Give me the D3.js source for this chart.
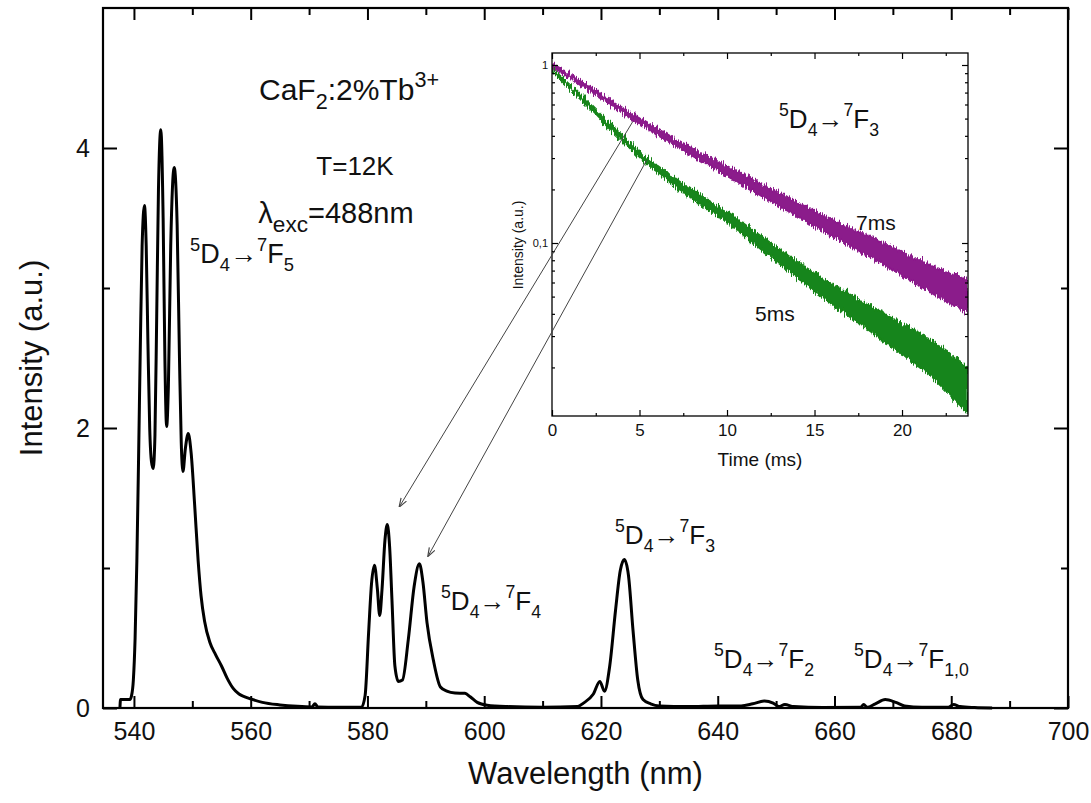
<!DOCTYPE html>
<html><head><meta charset="utf-8">
<script src="https://cdn.jsdelivr.net/npm/d3@7"></script>
<style>
html,body{margin:0;padding:0;background:#fff;}
svg{display:block;font-family:"Liberation Sans",Arial,Helvetica,sans-serif;}
</style></head>
<body><svg id="chart" width="1091" height="803"></svg>
<script>
// ---------- main spectrum data ----------
const wavelength = [537.6,537.7,539.3,539.6,539.9,540.2,540.5,540.8,541.1,541.4,541.8,542.1,542.4,542.7,543.0,543.3,543.6,543.9,544.2,544.6,545.0,545.3,545.6,545.9,546.3,546.9,547.4,547.8,548.1,548.4,548.8,549.3,549.8,550.4,551.0,551.5,552.1,553.0,554.0,555.0,556.0,557.0,558.0,559.0,560.0,562.0,565.0,568.0,570.5,571.0,571.5,575.0,579.0,579.6,580.2,580.7,581.2,581.7,582.1,582.5,583.0,583.4,583.8,584.2,584.7,585.3,586.0,587.0,588.0,588.9,589.5,590.2,591.3,592.5,593.6,595.0,596.7,597.6,598.8,600.5,604,610,616,617,618.7,619.8,620.6,621.5,622.5,623.3,624.0,624.7,625.5,626.3,627.2,628.5,630,635,640,644,646,648,649.5,650.5,651.5,653,658,664.5,665,665.6,667,668.7,670.5,672,675,679.5,680.4,681.5,684,687];
const intensity = [0,0.06,0.06,0.09,0.2,0.5,1.05,1.8,2.6,3.3,3.59,3.3,2.6,2.0,1.76,1.71,1.95,2.8,3.7,4.13,3.5,2.5,2.01,2.3,3.3,3.86,3.45,2.5,1.9,1.69,1.85,1.96,1.82,1.45,1.05,0.8,0.62,0.47,0.38,0.3,0.21,0.14,0.1,0.08,0.065,0.04,0.022,0.012,0.008,0.03,0.008,0.005,0.006,0.09,0.54,0.89,1.02,0.85,0.66,0.85,1.2,1.31,1.15,0.77,0.3,0.19,0.2,0.49,0.87,1.03,0.9,0.61,0.34,0.15,0.12,0.107,0.105,0.08,0.04,0.02,0.01,0.005,0.01,0.035,0.1,0.19,0.12,0.3,0.7,0.98,1.06,0.95,0.55,0.2,0.06,0.03,0.015,0.01,0.015,0.015,0.03,0.05,0.035,0.01,0.025,0.01,0.003,0.005,0.025,0.005,0.03,0.06,0.04,0.015,0.005,0.005,0.025,0.01,0.003,0];
const xTicks = [540,560,580,600,620,640,660,680,700];
const xMinorTicks = [550,570,590,610,630,650,670,690];
const yTicks = [0,2,4];
const yMinorTicks = [1,3];

// ---------- inset decay data (bands read as upper/lower envelopes) ----------
const slowTime  = [0,2,4.6,7.5,11.3,15.1,18.9,21.8,23.77];
const slowUpper = [1.026,0.777,0.532,0.365,0.233,0.150,0.101,0.0740,0.0620];
const slowLower = [0.975,0.728,0.492,0.330,0.200,0.122,0.076,0.0515,0.0400];
const fastTime  = [0,1.8,3.7,5.6,7.9,10,12.1,15.1,18.9,21.8,23.77];
const fastUpper = [0.961,0.657,0.432,0.294,0.202,0.150,0.107,0.0668,0.0405,0.0280,0.0200];
const fastLower = [0.913,0.616,0.399,0.269,0.180,0.130,0.0895,0.0525,0.0283,0.0172,0.0110];
const insetXTicks = [0,5,10,15,20];
const insetXMinor = [2.5,7.5,12.5,17.5,22.5];
const insetYTicks = [1,0.1];
const insetYTickLabels = ["1","0,1"];
const insetYMinor = [0.02,0.03,0.04,0.05,0.06,0.07,0.08,0.09,0.2,0.3,0.4,0.5,0.6,0.7,0.8,0.9];

// arrows: from inset (time, intensity) to main (wavelength, intensity)
const arrowFromTime = [4.61,5.41];
const arrowFromInt  = [0.48,0.292];
const arrowToWl     = [585.5,590.4];
const arrowToInt    = [1.44,1.086];

// ---------- drawing ----------
const svg = d3.select('#chart');
const FRAME = {l:103, t:8, r:1068, b:708};
const x = d3.scaleLinear().domain([534.7,700]).range([FRAME.l, FRAME.r]);
const y = d3.scaleLinear().domain([0,5]).range([FRAME.b, FRAME.t]);

function tickAxis(axisFn, scale, ticks, size, labels){
  return axisFn(scale).tickValues(ticks).tickSizeInner(size).tickSizeOuter(0)
    .tickFormat(labels ? (d=>d) : () => '');
}
function styleAxis(g, fontSize){
  g.select('.domain').remove();
  g.selectAll('.tick line').attr('stroke','#000').attr('stroke-width',2);
  g.selectAll('.tick text').attr('font-size',fontSize).attr('fill','#111')
    .attr('font-family','"Liberation Sans",Arial,sans-serif');
}
// bottom
let g = svg.append('g').attr('transform',`translate(0,${FRAME.b})`)
  .call(tickAxis(d3.axisBottom, x, xTicks, -12, true).tickPadding(14));
styleAxis(g, 25);
g = svg.append('g').attr('transform',`translate(0,${FRAME.b})`)
  .call(tickAxis(d3.axisBottom, x, xMinorTicks, -7, false)); styleAxis(g);
// top
g = svg.append('g').attr('transform',`translate(0,${FRAME.t})`)
  .call(tickAxis(d3.axisTop, x, xTicks, -12, false)); styleAxis(g);
g = svg.append('g').attr('transform',`translate(0,${FRAME.t})`)
  .call(tickAxis(d3.axisTop, x, xMinorTicks, -7, false)); styleAxis(g);
// left
g = svg.append('g').attr('transform',`translate(${FRAME.l},0)`)
  .call(tickAxis(d3.axisLeft, y, yTicks, -14, true).tickPadding(13));
styleAxis(g, 25);
g = svg.append('g').attr('transform',`translate(${FRAME.l},0)`)
  .call(tickAxis(d3.axisLeft, y, yMinorTicks, -7, false)); styleAxis(g);
// right
g = svg.append('g').attr('transform',`translate(${FRAME.r},0)`)
  .call(tickAxis(d3.axisRight, y, yTicks, -14, false)); styleAxis(g);
g = svg.append('g').attr('transform',`translate(${FRAME.r},0)`)
  .call(tickAxis(d3.axisRight, y, yMinorTicks, -7, false)); styleAxis(g);

// frame
svg.append('rect').attr('x',FRAME.l).attr('y',FRAME.t).attr('width',FRAME.r-FRAME.l).attr('height',FRAME.b-FRAME.t)
  .attr('fill','none').attr('stroke','#000').attr('stroke-width',2.2);

// axis titles
svg.append('text').attr('x',(FRAME.l+FRAME.r)/2).attr('y',784).attr('text-anchor','middle')
  .attr('font-size',31).attr('fill','#111').text('Wavelength (nm)');
svg.append('text').attr('transform',`translate(42,${(FRAME.t+FRAME.b)/2}) rotate(-90)`).attr('text-anchor','middle')
  .attr('font-size',31).attr('fill','#111').text('Intensity (a.u.)');

// spectrum line
const specData = wavelength.map((w,i)=>[w,intensity[i]]);
svg.append('path').datum(specData)
  .attr('d', d3.line().x(d=>x(d[0])).y(d=>y(d[1])).curve(d3.curveMonotoneX))
  .attr('fill','none').attr('stroke','#000').attr('stroke-width',3).attr('stroke-linejoin','round');

// rich text helper
function rich(parent, px, py, parts, size, anchor, scriptScale){
  const sc = scriptScale || 0.68;
  const t = parent.append('text').attr('x',px).attr('y',py).attr('font-size',size)
    .attr('fill','#111').attr('text-anchor',anchor||'start');
  let cur = 0;
  parts.forEach(([s,kind])=>{
    const target = kind==='sup' ? -0.45*size : kind==='sub' ? 0.3*size : 0;
    t.append('tspan').attr('dy', target-cur).attr('font-size', kind ? size*sc : size).text(s);
    cur = target;
  });
  return t;
}
function transition(parent, px, py, lower, size){
  return rich(parent, px, py, [['5','sup'],['D'],['4','sub'],['\u2192'],['7','sup'],['F'],[lower,'sub']], size);
}

// annotations main
rich(svg, 349, 100, [['CaF'],['2','sub'],[':2%Tb'],['3+','sup']], 30, 'middle', 0.72);
rich(svg, 355, 175, [['T=12K']], 26, 'middle');
rich(svg, 336, 223, [['\u03bb'],['exc','sub'],['=488nm']], 29, 'middle', 0.78);
transition(svg, 190, 263, '5', 27);
transition(svg, 441, 610, '4', 26);
transition(svg, 615, 544, '3', 26);
transition(svg, 714, 668, '2', 26);
transition(svg, 854, 668, '1,0', 26);

// ---------- inset ----------
const IN = {l:552, t:53, r:968, b:416};
const xi = d3.scaleLinear().domain([0,23.77]).range([IN.l, IN.r]);
const yi = d3.scaleLog().domain([0.01067,1.168]).range([IN.b, IN.t]);

const defs = svg.append('defs');
defs.append('clipPath').attr('id','insetClip').append('rect')
  .attr('x',IN.l).attr('y',IN.t).attr('width',IN.r-IN.l).attr('height',IN.b-IN.t);
const f = defs.append('filter').attr('id','noisy').attr('filterUnits','userSpaceOnUse')
  .attr('x',IN.l-20).attr('y',IN.t-20).attr('width',IN.r-IN.l+40).attr('height',IN.b-IN.t+40);
f.append('feTurbulence').attr('type','fractalNoise').attr('baseFrequency','0.9 0.06').attr('numOctaves',2).attr('seed',4).attr('result','n');
f.append('feDisplacementMap').attr('in','SourceGraphic').attr('in2','n').attr('scale',9)
  .attr('xChannelSelector','R').attr('yChannelSelector','G');
const ah = defs.append('marker').attr('id','arrowHead').attr('viewBox','0 0 10 10').attr('refX',9).attr('refY',5)
  .attr('markerWidth',9).attr('markerHeight',9).attr('markerUnits','userSpaceOnUse').attr('orient','auto');
ah.append('path').attr('d','M0,1.5 L10,5 L0,8.5').attr('fill','none').attr('stroke','#444').attr('stroke-width',1.3);

const ig = svg.append('g');
const bands = ig.append('g').attr('clip-path','url(#insetClip)');
const area = d3.area().x(d=>xi(d[0])).y0(d=>yi(d[2])).y1(d=>yi(d[1])).curve(d3.curveMonotoneX);
bands.append('path').datum(fastTime.map((t,i)=>[t,fastUpper[i],fastLower[i]]))
  .attr('d',area).attr('fill','#16851a').attr('stroke','#16851a').attr('stroke-width',1.5).attr('filter','url(#noisy)');
bands.append('path').datum(slowTime.map((t,i)=>[t,slowUpper[i],slowLower[i]]))
  .attr('d',area).attr('fill','#8b1a8b').attr('stroke','#8b1a8b').attr('stroke-width',1.5).attr('filter','url(#noisy)');

// inset axes
function styleInset(g, fs){
  g.select('.domain').remove();
  g.selectAll('.tick line').attr('stroke','#000').attr('stroke-width',1.2);
  g.selectAll('.tick text').attr('font-size',fs).attr('fill','#111');
}
g = ig.append('g').attr('transform',`translate(0,${IN.b})`)
  .call(d3.axisBottom(xi).tickValues(insetXTicks).tickSizeInner(-6).tickSizeOuter(0).tickPadding(8)); styleInset(g,17);
g = ig.append('g').attr('transform',`translate(0,${IN.b})`)
  .call(d3.axisBottom(xi).tickValues(insetXMinor.filter(v=>v<23.7)).tickSizeInner(-3).tickSizeOuter(0).tickFormat(()=>'')); styleInset(g);
g = ig.append('g').attr('transform',`translate(0,${IN.t})`)
  .call(d3.axisTop(xi).tickValues(insetXTicks).tickSizeInner(-6).tickSizeOuter(0).tickFormat(()=>'')); styleInset(g);
g = ig.append('g').attr('transform',`translate(0,${IN.t})`)
  .call(d3.axisTop(xi).tickValues(insetXMinor.filter(v=>v<23.7)).tickSizeInner(-3).tickSizeOuter(0).tickFormat(()=>'')); styleInset(g);
g = ig.append('g').attr('transform',`translate(${IN.l},0)`)
  .call(d3.axisLeft(yi).tickValues(insetYTicks).tickSizeInner(-6).tickSizeOuter(0).tickPadding(4)
    .tickFormat((d,i)=>insetYTickLabels[i])); styleInset(g,11);
g = ig.append('g').attr('transform',`translate(${IN.l},0)`)
  .call(d3.axisLeft(yi).tickValues(insetYMinor).tickSizeInner(-3).tickSizeOuter(0).tickFormat(()=>'')); styleInset(g);
g = ig.append('g').attr('transform',`translate(${IN.r},0)`)
  .call(d3.axisRight(yi).tickValues(insetYTicks).tickSizeInner(-6).tickSizeOuter(0).tickFormat(()=>'')); styleInset(g);
g = ig.append('g').attr('transform',`translate(${IN.r},0)`)
  .call(d3.axisRight(yi).tickValues(insetYMinor).tickSizeInner(-3).tickSizeOuter(0).tickFormat(()=>'')); styleInset(g);

ig.append('rect').attr('x',IN.l).attr('y',IN.t).attr('width',IN.r-IN.l).attr('height',IN.b-IN.t)
  .attr('fill','none').attr('stroke','#000').attr('stroke-width',1.3);

ig.append('text').attr('x',(IN.l+IN.r)/2).attr('y',466).attr('text-anchor','middle')
  .attr('font-size',19).attr('fill','#111').text('Time (ms)');
ig.append('text').attr('transform',`translate(523,245) rotate(-90)`).attr('text-anchor','middle')
  .attr('font-size',14).attr('fill','#111').text('Intensity (a.u.)');
transition(ig, 779, 128, '3', 26);
ig.append('text').attr('x',856).attr('y',230).attr('font-size',21).attr('fill','#111').text('7ms');
ig.append('text').attr('x',755).attr('y',321).attr('font-size',21).attr('fill','#111').text('5ms');

// arrows
arrowFromTime.forEach((t,i)=>{
  svg.append('line').attr('x1',xi(t)).attr('y1',yi(arrowFromInt[i]))
    .attr('x2',x(arrowToWl[i])).attr('y2',y(arrowToInt[i]))
    .attr('stroke','#444').attr('stroke-width',1).attr('marker-end','url(#arrowHead)');
});
</script></body></html>
